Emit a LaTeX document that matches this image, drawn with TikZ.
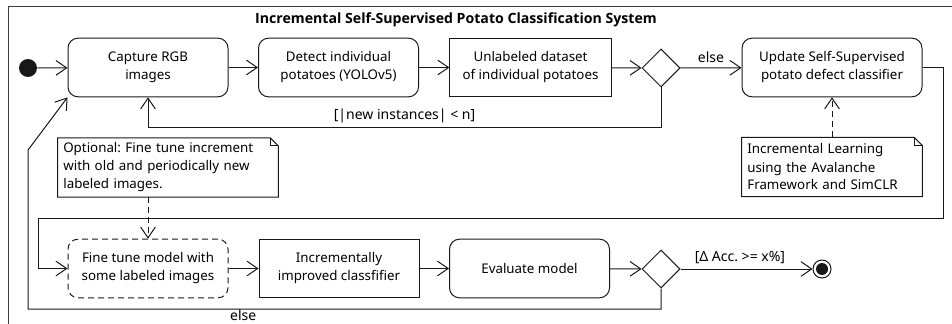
\documentclass[tikz,border=0pt]{standalone}
\usepackage{fontspec}
\setmainfont{Noto Sans}
\newfontfamily\titlefont{Open Sans}
\frenchspacing
\usetikzlibrary{
  shapes.geometric,
  arrows.meta,
  positioning,
  calc
}
\definecolor{linecolor}{RGB}{24, 24, 24}
\definecolor{framecolor}{RGB}{60, 60, 60}
\definecolor{labelcolor}{RGB}{0, 0, 0}
\tikzset{
boxtext/.style={
  align=center,
  font=\fontsize{10}{13.5}\selectfont,
  text=labelcolor
},
actionbox/.style={
  draw=linecolor,
  line width=0.75pt,
  rounded corners=7.5pt,
  minimum width=120pt,
  minimum height=44pt,
  boxtext
},
databox/.style={
  actionbox,
  rounded corners=0pt
},
notebox/.style={
  minimum height=44pt,
  inner xsep=4pt,
  align=left,
  font=\fontsize{10}{13.5}\selectfont,
  text=labelcolor
},
decision/.style={
  diamond,
  draw=linecolor,
  line width=0.75pt,
  minimum width=28.5pt,
  minimum height=28.5pt,
  inner sep=0pt
},
flow/.style={
  -{Straight Barb[length=8pt,width=11pt]},
  line width=0.75pt,
  draw=linecolor
},
dashedflow/.style={
  flow,
  dash pattern=on 4.5pt off 3pt
},
guard/.style={
  font=\fontsize{10.5}{12}\selectfont,
  text=labelcolor
}
}

\begin{document}
\begin{tikzpicture}[x=0.75pt, y=-0.75pt]
    \useasboundingbox (0,0) rectangle (952,324);
    % Frame and title
    \draw[framecolor, line width=0.75pt] (8,324) -- (8,7) -- (952,7);
    \node[font=\titlefont\fontsize{10.6}{12}\selectfont\bfseries] (title) at (456,20) {Incremental Self-Supervised Potato Classification System};

    % Upper row
    \node[circle, fill=linecolor, minimum size=13.5pt, inner sep=0pt] (start) at (28,68) {};
    \node[actionbox] (capture) at (148,67.5) {Capture RGB\\images};
    \node[actionbox] (detect) at (338.5,67.5) {Detect individual\\potatoes (YOLOv5)};
    \node[databox, minimum width=121pt] (dataset) at (530.5,67.5) {Unlabeled dataset\\of individual potatoes};
    \node[decision] (newcheck) at (661,68) {};
    \node[actionbox, minimum width=135pt] (update) at (832,67.5) {Update Self-Supervised\\potato defect classifier};

    % Notes
    \node[notebox, minimum width=165pt, text width=157pt] (optnote) at (168,167.5) {Optional: Fine tune increment\\with old and periodically new\\labeled images.};
    \node[notebox, minimum width=135pt, text width=127pt] (incnote) at (832,167) {Incremental Learning\\using the Avalanche\\Framework and SimCLR};
    \foreach \n in {optnote,incnote} {
      \draw[linecolor, line width=0.75pt] (\n.north west) -- ([xshift=-6pt]\n.north east) -- ([yshift=-6pt]\n.north east) -- (\n.south east) -- (\n.south west) -- cycle;
      \draw[linecolor, line width=0.75pt] ([xshift=-6pt]\n.north east) |- ([yshift=-6pt]\n.north east);
    }

    % Lower row
    \node[actionbox, dash pattern=on 4.5pt off 3pt] (finetune) at (148,268.5) {Fine tune model with\\some labeled images};
    \node[databox] (improved) at (339,268.5) {Incrementally\\improved classfifier};
    \node[actionbox] (evaluate) at (529.5,268.5) {Evaluate model};
    \node[decision] (acccheck) at (661,269) {};
    \node[circle, draw=linecolor, line width=0.75pt, minimum size=13.5pt, inner sep=0pt] (stop) at (822,269) {};
    \node[circle, fill=linecolor, minimum size=9pt, inner sep=0pt] at (stop) {};

    % Bends
    \coordinate (rightturn) at (943,218);
    \coordinate (leftturn) at (38,218);
    \coordinate (elseturn) at (28,309);
    \coordinate (elseup) at (28,150);

    % Connectors
    \draw[flow] (start) -- (capture);
    \draw[flow] (capture) -- (detect);
    \draw[flow] (detect) -- (dataset);
    \draw[flow] (dataset) -- (newcheck);
    \draw[flow] (newcheck) -- node[guard, above] {else} (update);
    \draw[flow] (newcheck.south) -- (newcheck.south |- 0,128) -- node[guard, above] {[|new instances| < n]} (capture.south |- 0,128) -- (capture.south);
    \draw[flow] (update.east) -| (rightturn) -- (leftturn) |- (finetune.west);
    \draw[dashedflow] (incnote) -- (update);
    \draw[dashedflow] (optnote.south -| finetune) -- (finetune);
    \draw[flow] (finetune) -- (improved);
    \draw[flow] (improved) -- (evaluate);
    \draw[flow] (evaluate) -- (acccheck);
    \draw[flow] (acccheck) -- node[guard, above, pos=0.45] {[Δ Acc. >= x\%]} (stop);
    \draw[flow] (acccheck.south) -- (acccheck.south |- elseturn) -- node[guard, below, inner sep=0.5pt, pos=0.66] {else} (elseturn) -- (elseup) -- (capture.south west);

  \end{tikzpicture}
\end{document}
